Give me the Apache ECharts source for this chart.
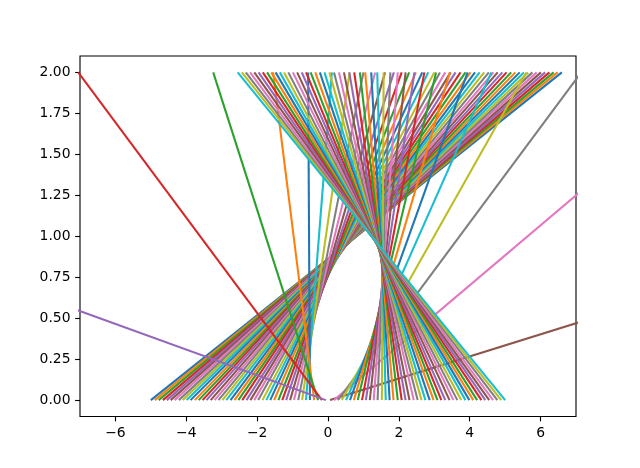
<!DOCTYPE html>
<html>
<head>
<meta charset="utf-8">
<script src="https://cdn.jsdelivr.net/npm/echarts@6/dist/echarts.min.js"></script>
<style>
  html, body { margin: 0; padding: 0; background: #fff; }
  #chart { width: 640px; height: 468px; }
</style>
</head>
<body>
<div id="chart"></div>
<script>
// x where each segment meets y = 0
var xBottom = [
  -5.00, -4.89, -4.78, -4.66, -4.55, -4.44, -4.33, -4.21, -4.10, -3.99,
  -3.88, -3.76, -3.65, -3.54, -3.43, -3.31, -3.20, -3.09, -2.98, -2.87,
  -2.75, -2.64, -2.53, -2.42, -2.30, -2.19, -2.08, -1.97, -1.85, -1.74,
  -1.63, -1.52, -1.40, -1.29, -1.18, -1.07, -0.96, -0.84, -0.73, -0.62,
  -0.51, -0.39, -0.28, -0.17, -0.06, 0.06, 0.17, 0.28, 0.39, 0.51,
  0.62, 0.73, 0.84, 0.96, 1.07, 1.18, 1.29, 1.40, 1.52, 1.63,
  1.74, 1.85, 1.97, 2.08, 2.19, 2.30, 2.42, 2.53, 2.64, 2.75,
  2.87, 2.98, 3.09, 3.20, 3.31, 3.43, 3.54, 3.65, 3.76, 3.88,
  3.99, 4.10, 4.21, 4.33, 4.44, 4.55, 4.66, 4.78, 4.89, 5.00
];
// x where each segment meets y = 2
var xTop = [
  6.60, 6.48, 6.37, 6.25, 6.13, 6.01, 5.89, 5.77, 5.65, 5.53,
  5.41, 5.29, 5.17, 5.04, 4.92, 4.79, 4.67, 4.54, 4.41, 4.28,
  4.15, 4.02, 3.88, 3.74, 3.60, 3.46, 3.31, 3.16, 3.00, 2.83,
  2.66, 2.48, 2.29, 2.08, 1.86, 1.61, 1.33, 1.00, 0.61, 0.11,
  -0.56, -1.55, -3.24, -7.05, -25.61, 29.66, 11.10, 7.15, 5.60, 4.61,
  3.94, 3.44, 3.05, 2.72, 2.44, 2.19, 1.97, 1.76, 1.57, 1.39,
  1.22, 1.05, 0.90, 0.74, 0.60, 0.45, 0.31, 0.17, 0.04, -0.10,
  -0.23, -0.36, -0.49, -0.62, -0.74, -0.87, -0.99, -1.12, -1.24, -1.36,
  -1.48, -1.60, -1.72, -1.84, -1.96, -2.08, -2.20, -2.32, -2.43, -2.55
];
var yEnds = [0, 2];
var xTicks = [-6, -4, -2, 0, 2, 4, 6];
var yTicks = [0, 0.25, 0.5, 0.75, 1, 1.25, 1.5, 1.75, 2];

var colors = ['#1f77b4', '#ff7f0e', '#2ca02c', '#d62728', '#9467bd',
              '#8c564b', '#e377c2', '#7f7f7f', '#bcbd22', '#17becf'];

var series = [];
for (var i = 0; i < xBottom.length; i++) {
  series.push({
    type: 'line',
    symbol: 'none',
    clip: true,
    silent: true,
    data: [[xBottom[i], yEnds[0]], [xTop[i], yEnds[1]]],
    lineStyle: { width: 2.08, color: colors[i % 10] }
  });
}

var font = { fontFamily: 'DejaVu Sans', fontSize: 13.9, color: '#000' };
var tick = { show: true, length: 4.86, lineStyle: { color: '#000', width: 1.11 } };

var chart = echarts.init(document.getElementById('chart'), null, { renderer: 'canvas' });
chart.setOption({
  animation: false,
  backgroundColor: '#fff',
  grid: {
    left: 80, right: 64, top: 56, bottom: 51.5,
    show: true, borderColor: '#000', borderWidth: 1.11, backgroundColor: 'transparent'
  },
  xAxis: {
    type: 'value', min: -7, max: 7,
    axisLine: { show: false, onZero: false },
    splitLine: { show: false },
    axisTick: Object.assign({ customValues: xTicks }, tick),
    axisLabel: Object.assign({
      margin: 9.5,
      customValues: xTicks,
      formatter: function (v) { return v < 0 ? '\u2212' + Math.abs(v) : String(v); }
    }, font)
  },
  yAxis: {
    type: 'value', min: -0.1, max: 2.1,
    axisLine: { show: false, onZero: false },
    splitLine: { show: false },
    axisTick: Object.assign({ customValues: yTicks }, tick),
    axisLabel: Object.assign({
      margin: 9.5,
      customValues: yTicks,
      formatter: function (v) { return v.toFixed(2); }
    }, font)
  },
  series: series
});
</script>
</body>
</html>
